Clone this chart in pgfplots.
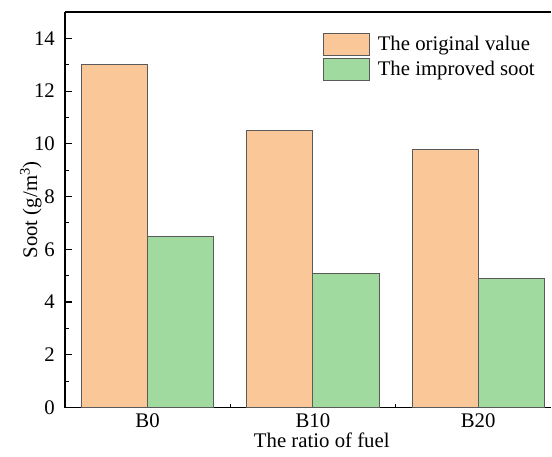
\documentclass[border=0pt]{standalone}
\usepackage{pgfplots}
\pgfplotsset{compat=1.18}
\usepackage{fontspec}
\setmainfont{Liberation Serif}
\definecolor{orig}{RGB}{250,200,152}
\definecolor{impr}{RGB}{160,218,158}
\definecolor{edge}{RGB}{90,90,90}
\begin{document}
\fontsize{20.8pt}{24pt}\selectfont
\begin{tikzpicture}
\begin{axis}[
  name=ax,
  scale only axis, width=487pt, height=396pt,
  xmin=-0.5, xmax=2.443, ymin=0, ymax=15,
  axis x line=box, axis y line=left,
  axis line style={-, line width=1.3pt, black},
  xtick pos=bottom, ytick pos=left,
  tick align=inside,
  major tick length=7pt, minor tick length=4pt,
  tick style={line width=1.1pt, black},
  xtick={0,1,2}, xticklabels={B0,B10,B20},
  minor xtick={0.5,1.5},
  ytick={0,2,4,6,8,10,12,14},
  minor ytick={1,3,5,7,9,11,13},
  /pgf/number format/assume math mode=true,
  xticklabel style={anchor=base, yshift=-20.5pt, text depth=0pt},
  yticklabel style={xshift=-3pt},
  every axis x label/.style={at={(axis description cs:0.528,-0.1)}, anchor=base, text height=0.68em},
  every axis y label/.style={at={(axis description cs:-0.070,0.5)}, rotate=90, anchor=center},
  xlabel={The ratio of fuel},
  ylabel={Soot (g/m\textsuperscript{3})},
  legend style={at={(axis description cs:0.53,0.947)}, anchor=north west,
    draw=none, fill=none, inner sep=0pt, row sep=2pt,
    nodes={inner sep=0pt, anchor=west}},
  legend cell align=left,
  legend image code/.code={\draw[#1] (0pt,-11pt) rectangle (46pt,11pt); \path (54pt,0pt);},
]
\addplot[ybar, bar width=0.4, bar shift=0pt, fill=orig, draw=edge, line width=0.9pt]
  coordinates {(-0.2,13.0) (0.8,10.5) (1.8,9.8)};
\addlegendentry{The original value}
\addplot[ybar, bar width=0.4, bar shift=0pt, fill=impr, draw=edge, line width=0.9pt]
  coordinates {(0.2,6.5) (1.2,5.1) (2.2,4.9)};
\addlegendentry{The improved soot}
\end{axis}
\path ([xshift=-65pt,yshift=12pt]ax.north west) rectangle ([yshift=-49pt]ax.south east);
\end{tikzpicture}
\end{document}
